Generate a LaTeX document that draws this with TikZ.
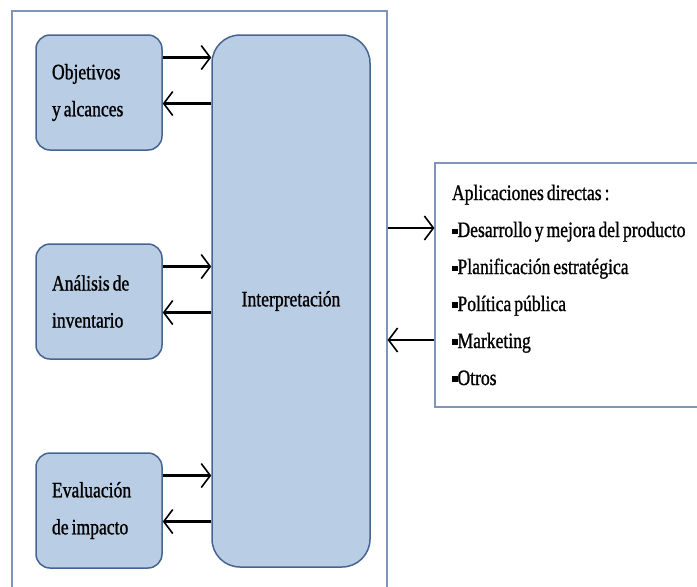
\documentclass[tikz,border=0pt]{standalone}
\usepackage{fontspec}
\setmainfont{Liberation Serif}[FakeStretch=0.8,FakeBold=1]
\usetikzlibrary{arrows.meta}
\definecolor{boxfill}{RGB}{185,205,229}
\definecolor{boxline}{RGB}{70,100,145}
\definecolor{frameline}{RGB}{125,150,185}
\newcommand{\sqbul}{\rule[0.3ex]{0.25em}{0.25em}}
\newcommand{\boxfont}{\fontsize{22}{37}\selectfont\spaceskip=3pt plus 1pt\relax}

\begin{document}
\begin{tikzpicture}[x=1pt,y=-1pt,
  stage/.style={draw=boxline, fill=boxfill, line width=1.5pt, rounded corners=14pt,
    minimum width=126pt, minimum height=115pt, text width=94pt, inner xsep=16pt,
    align=flush left, font=\boxfont},
  flow/.style={line width=2.5pt, -{Straight Barb[length=9pt,width=24pt,line width=1.6pt]}},
]
\useasboundingbox (0,0) rectangle (697,587);
\clip (0,0) rectangle (697,587);

% Outer frame
\node[draw=frameline, line width=1.2pt, minimum width=375pt, minimum height=600pt, inner sep=0pt] (frame) at (199.5,311) {};

% Stages
\node[stage] (obj) at (99,92.5) {Objetivos\\y alcances};
\node[stage] (ana) at (99,301.5) {Análisis de\\inventario};
\node[stage] (eva) at (99,510.5) {Evaluación\\de impacto};
\node[draw=boxline, fill=boxfill, line width=1.5pt, rounded corners=28pt,
  minimum width=158pt, minimum height=532pt, font=\boxfont] (interp) at (291,301) {Interpretación};

% Applications
\node[draw=frameline, line width=1.2pt, minimum height=244pt, text width=300pt, inner xsep=17pt,
  align=flush left, font=\boxfont] (apps) at (602,285)
  {Aplicaciones directas :\\\sqbul Desarrollo y mejora del producto\\\sqbul Planificación estratégica\\
   \sqbul Política pública\\\sqbul Marketing\\\sqbul Otros};

% Objetivos <-> Interpretacion
\draw[flow] ([yshift=35pt]obj.east) -- ([yshift=35pt]obj.east -| interp.west);
\draw[flow] ([yshift=-11pt]obj.east -| interp.west) -- ([yshift=-11pt]obj.east);

% Analisis <-> Interpretacion
\draw[flow] ([yshift=35pt]ana.east) -- ([yshift=35pt]ana.east -| interp.west);
\draw[flow] ([yshift=-11pt]ana.east -| interp.west) -- ([yshift=-11pt]ana.east);

% Evaluacion <-> Interpretacion
\draw[flow] ([yshift=35pt]eva.east) -- ([yshift=35pt]eva.east -| interp.west);
\draw[flow] ([yshift=-11pt]eva.east -| interp.west) -- ([yshift=-11pt]eva.east);

% Frame <-> Aplicaciones
\draw[flow] ([yshift=57pt]apps.west -| frame.east) -- ([yshift=57pt]apps.west);
\draw[flow] ([yshift=-55pt]apps.west) -- ([yshift=-55pt]apps.west -| frame.east);
\end{tikzpicture}
\end{document}
